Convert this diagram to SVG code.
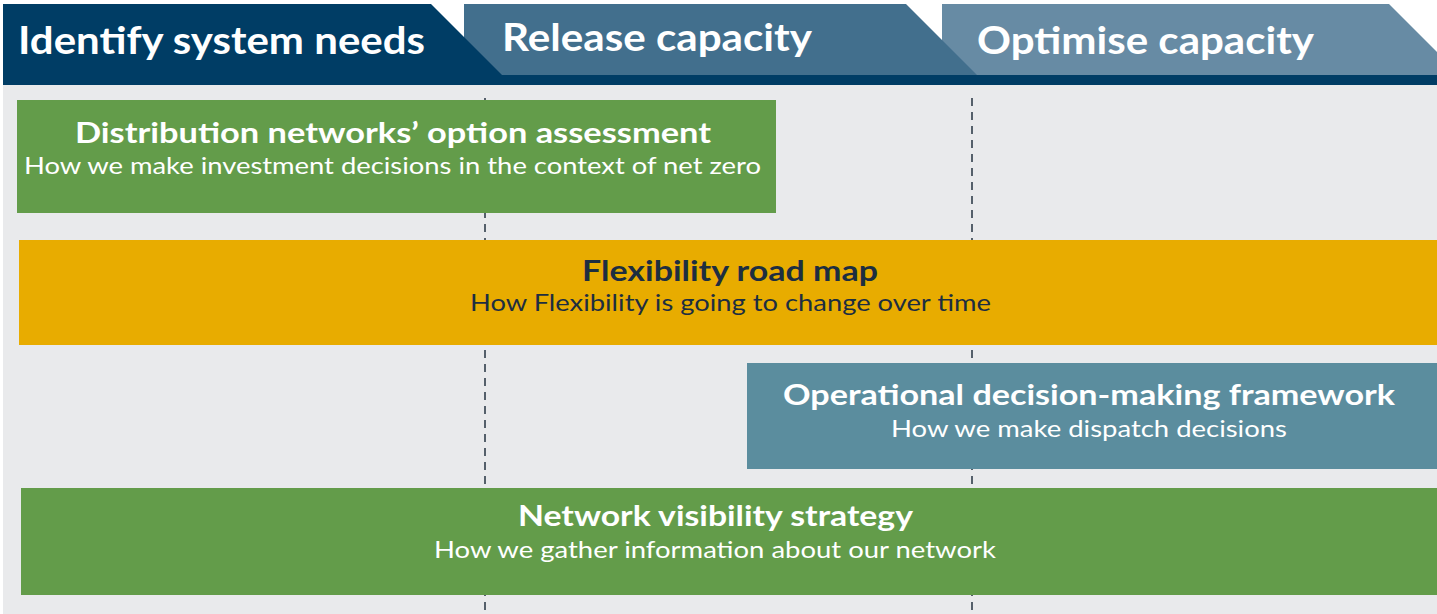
<svg xmlns="http://www.w3.org/2000/svg" width="1437" height="614" viewBox="0 0 1437 614">
<defs>
<style>
.hd{font-family:Lato,"Open Sans","Liberation Sans",sans-serif;font-weight:700;font-size:38px;fill:#ffffff}
.tt{font-family:Lato,"Open Sans","Liberation Sans",sans-serif;font-weight:700;font-size:29px;fill:#ffffff;text-anchor:middle}
.st{font-family:Lato,"Open Sans","Liberation Sans",sans-serif;font-weight:400;font-size:23px;fill:#ffffff;text-anchor:middle}
.dk{fill:#1d2e40}
.dash{stroke:#55606b;stroke-width:2;stroke-dasharray:8 6;fill:none}
</style>
</defs>
<rect x="0" y="0" width="1437" height="614" fill="#ffffff"/>
<rect x="3" y="84" width="1434" height="530" fill="#e9eaec"/>
<g id="header">
<polygon points="942,4 1389,4 1437,52 1437,75 942,75" fill="#678ba4"/>
<polygon points="464,4 906,4 977,75 464,75" fill="#426f8d"/>
<polygon points="3,4 431,4 502,75 3,75" fill="#003d65"/>
<rect x="3" y="75" width="1434" height="10" fill="#003d65"/>
<text class="hd" x="18" y="54" textLength="407" lengthAdjust="spacingAndGlyphs">Identify system needs</text>
<text class="hd" x="502" y="51" textLength="310" lengthAdjust="spacingAndGlyphs">Release capacity</text>
<text class="hd" x="977" y="54" textLength="337" lengthAdjust="spacingAndGlyphs">Optimise capacity</text>
</g>
<g id="connectors">
<line class="dash" x1="485" y1="98" x2="485" y2="614"/>
<line class="dash" x1="972" y1="98" x2="972" y2="614"/>
</g>
<g id="dnoa">
<rect x="17" y="100" width="759" height="113" fill="#639c4a"/>
<text class="tt" x="393" y="143" textLength="636" lengthAdjust="spacingAndGlyphs">Distribution networks’ option assessment</text>
<text class="st" x="392.5" y="174" textLength="737" lengthAdjust="spacingAndGlyphs">How we make investment decisions in the context of net zero</text>
</g>
<g id="flex">
<rect x="19" y="240" width="1418" height="105" fill="#e8ac00"/>
<text class="tt dk" x="730" y="281" textLength="296" lengthAdjust="spacingAndGlyphs">Flexibility road map</text>
<text class="st dk" x="730.5" y="311" textLength="521" lengthAdjust="spacingAndGlyphs">How Flexibility is going to change over time</text>
</g>
<g id="odmf">
<rect x="747" y="363" width="690" height="106" fill="#5b8d9e"/>
<text class="tt" x="1089" y="405" textLength="612" lengthAdjust="spacingAndGlyphs">Operational decision-making framework</text>
<text class="st" x="1089" y="437" textLength="396" lengthAdjust="spacingAndGlyphs">How we make dispatch decisions</text>
</g>
<g id="nvs">
<rect x="21" y="488" width="1416" height="107" fill="#639c4a"/>
<text class="tt" x="715.5" y="526" textLength="395" lengthAdjust="spacingAndGlyphs">Network visibility strategy</text>
<text class="st" x="715" y="558" textLength="562" lengthAdjust="spacingAndGlyphs">How we gather information about our network</text>
</g>
</svg>
